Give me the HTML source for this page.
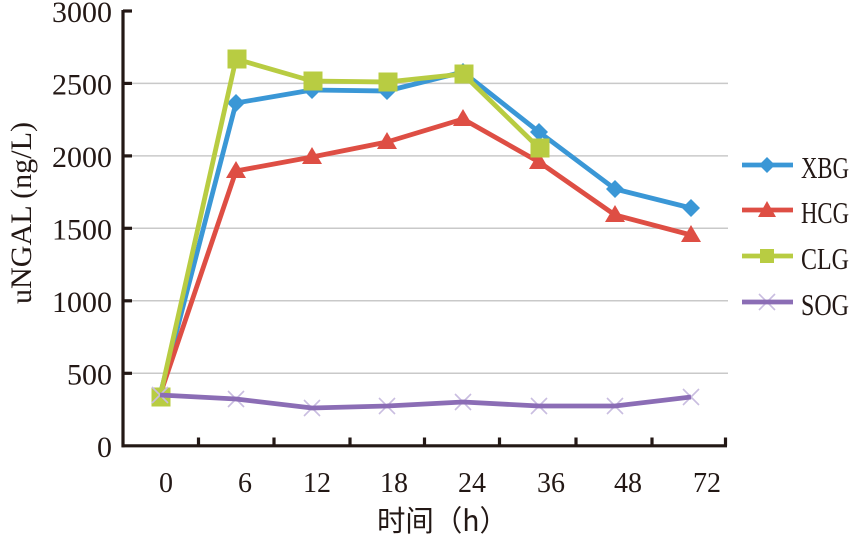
<!DOCTYPE html>
<html>
<head>
<meta charset="utf-8">
<style>
  html, body { margin: 0; padding: 0; background: #ffffff; }
  svg { display: block; }
  text { font-family: "Liberation Serif", "Noto Serif CJK SC", serif; fill: #231815; }
</style>
</head>
<body>
<svg width="850" height="538" viewBox="0 0 850 538" xmlns="http://www.w3.org/2000/svg">
  <!-- gridlines -->
  <g stroke="#c9c9c9" stroke-width="1.5">
    <line x1="124" y1="83.4" x2="728" y2="83.4"/>
    <line x1="124" y1="155.9" x2="728" y2="155.9"/>
    <line x1="124" y1="228.3" x2="728" y2="228.3"/>
    <line x1="124" y1="300.8" x2="728" y2="300.8"/>
    <line x1="124" y1="373.3" x2="728" y2="373.3"/>
  </g>

  <!-- axes -->
  <g stroke="#231815" stroke-width="3.2" fill="none">
    <line x1="123" y1="10" x2="123" y2="447.3"/>
    <line x1="121.5" y1="445.8" x2="727" y2="445.8"/>
    <!-- y ticks -->
    <line x1="123" y1="11" x2="132" y2="11"/>
    <line x1="123" y1="83.4" x2="132" y2="83.4"/>
    <line x1="123" y1="155.9" x2="132" y2="155.9"/>
    <line x1="123" y1="228.3" x2="132" y2="228.3"/>
    <line x1="123" y1="300.8" x2="132" y2="300.8"/>
    <line x1="123" y1="373.3" x2="132" y2="373.3"/>
    <!-- x ticks -->
    <line x1="198.5" y1="445.8" x2="198.5" y2="437.5"/>
    <line x1="274" y1="445.8" x2="274" y2="437.5"/>
    <line x1="350" y1="445.8" x2="350" y2="437.5"/>
    <line x1="424.5" y1="445.8" x2="424.5" y2="437.5"/>
    <line x1="499.5" y1="445.8" x2="499.5" y2="437.5"/>
    <line x1="576" y1="445.8" x2="576" y2="437.5"/>
    <line x1="652" y1="445.8" x2="652" y2="437.5"/>
    <line x1="725.5" y1="445.8" x2="725.5" y2="437.5"/>
  </g>

  <!-- y tick labels -->
  <g font-size="30" text-anchor="end">
    <text x="112" y="22">3000</text>
    <text x="112" y="94.5">2500</text>
    <text x="112" y="167">2000</text>
    <text x="112" y="239.5">1500</text>
    <text x="112" y="312">1000</text>
    <text x="112" y="384.5">500</text>
    <text x="112" y="457">0</text>
  </g>

  <!-- x tick labels -->
  <g font-size="28" text-anchor="middle">
    <text x="166" y="492">0</text>
    <text x="245" y="492">6</text>
    <text x="317" y="492">12</text>
    <text x="394" y="492">18</text>
    <text x="472" y="492">24</text>
    <text x="551" y="492">36</text>
    <text x="628" y="492">48</text>
    <text x="707" y="492">72</text>
  </g>

  <!-- axis titles -->
  <text x="377" y="531" font-size="29" style="font-family:'Noto Sans CJK SC','Liberation Serif',sans-serif" textLength="131" lengthAdjust="spacingAndGlyphs">时间（h）</text>
  <text transform="translate(31,304) rotate(-90)" x="0" y="0" font-size="30" textLength="182" lengthAdjust="spacingAndGlyphs">uNGAL (ng/L)</text>

  <!-- XBG -->
  <polyline fill="none" stroke="#3a97d6" stroke-width="4.8" stroke-linejoin="round"
    points="160,395 236,103 312,90 387,91 463,72 539,132 615,189 691,208"/>
  <g fill="#3a97d6">
    <polygon points="236,94 245,103 236,112 227,103"/>
    <polygon points="312,81 321,90 312,99 303,90"/>
    <polygon points="387,82 396,91 387,100 378,91"/>
    <polygon points="463,63 472,72 463,81 454,72"/>
    <polygon points="539,123 548,132 539,141 530,132"/>
    <polygon points="615,180 624,189 615,198 606,189"/>
    <polygon points="691,199 700,208 691,217 682,208"/>
  </g>

  <!-- HCG -->
  <polyline fill="none" stroke="#de4e44" stroke-width="4.8" stroke-linejoin="round"
    points="160,395 236,171 312,157 387,142 463,119 539,162 615,215 691,235"/>
  <g fill="#de4e44">
    <polygon points="236,161 246,178 226,178"/>
    <polygon points="312,147 322,164 302,164"/>
    <polygon points="387,132 397,149 377,149"/>
    <polygon points="463,109 473,126 453,126"/>
    <polygon points="539,152 549,169 529,169"/>
    <polygon points="615,205 625,222 605,222"/>
    <polygon points="691,225 701,242 681,242"/>
  </g>

  <!-- CLG -->
  <polyline fill="none" stroke="#b8cc42" stroke-width="4.8" stroke-linejoin="round"
    points="160,397 236,59 312,81 387,82 463,74 539,148"/>
  <g fill="#b8cc42">
    <rect x="151.5" y="387.5" width="19" height="19"/>
    <rect x="227.5" y="49.5" width="19" height="19"/>
    <rect x="303.5" y="71.5" width="19" height="19"/>
    <rect x="378.5" y="72.5" width="19" height="19"/>
    <rect x="454.5" y="64.5" width="19" height="19"/>
    <rect x="530.5" y="138.5" width="19" height="19"/>
  </g>

  <!-- SOG -->
  <g stroke="#c9bde0" stroke-width="1.6">
    <path d="M152,387 L168,403 M168,387 L152,403"/>
    <path d="M228,391 L244,407 M244,391 L228,407"/>
    <path d="M304,400 L320,416 M320,400 L304,416"/>
    <path d="M379,398 L395,414 M395,398 L379,414"/>
    <path d="M455,394 L471,410 M471,394 L455,410"/>
    <path d="M531,398 L547,414 M547,398 L531,414"/>
    <path d="M607,398 L623,414 M623,398 L607,414"/>
    <path d="M683,389 L699,405 M699,389 L683,405"/>
  </g>
  <polyline fill="none" stroke="#8b6db5" stroke-width="4.8" stroke-linejoin="round"
    points="160,395 236,399 312,408 387,406 463,402 539,406 615,406 691,397"/>

  <!-- legend -->
  <g stroke-width="4.8">
    <line x1="742" y1="165" x2="793" y2="165" stroke="#3a97d6"/>
    <line x1="742" y1="210" x2="793" y2="210" stroke="#de4e44"/>
    <line x1="742" y1="256" x2="793" y2="256" stroke="#b8cc42"/>
  </g>
  <polygon points="767,157 775,165 767,173 759,165" fill="#3a97d6"/>
  <polygon points="767,201 776,217 758,217" fill="#de4e44"/>
  <rect x="760" y="249" width="14" height="14" fill="#b8cc42"/>
  <path d="M759,294 L775,310 M775,294 L759,310" stroke="#c9bde0" stroke-width="1.6"/>
  <line x1="742" y1="302" x2="793" y2="302" stroke="#8b6db5" stroke-width="4.8"/>

  <g font-size="31">
    <text x="801" y="178" textLength="48" lengthAdjust="spacingAndGlyphs">XBG</text>
    <text x="801" y="223" textLength="48" lengthAdjust="spacingAndGlyphs">HCG</text>
    <text x="801" y="269" textLength="48" lengthAdjust="spacingAndGlyphs">CLG</text>
    <text x="801" y="315" textLength="48" lengthAdjust="spacingAndGlyphs">SOG</text>
  </g>
</svg>
</body>
</html>
